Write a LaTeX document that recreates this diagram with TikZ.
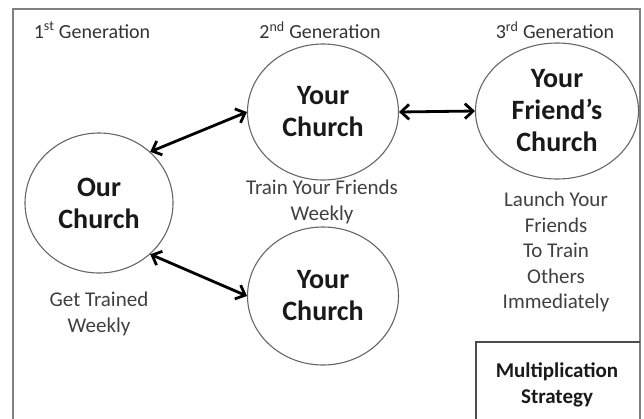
\documentclass[tikz,border=0pt]{standalone}
\usepackage{fontspec}
\setmainfont{Carlito}
\usepackage[svgnames]{xcolor}
\usepackage{tikz}
\usetikzlibrary{arrows.meta, shapes.geometric, positioning}

\tikzset{
    church/.style={ellipse, draw=black!60, line width=1.1pt, inner sep=0pt,
        align=center, text=black!90, font=\fontsize{28}{32}\selectfont\bfseries},
    gen/.style={text=black!80, font=\fontsize{20}{24}\selectfont},
    note/.style={align=center, text=black!75, font=\fontsize{21}{25.5}\selectfont},
    link/.style={line width=2.8pt, {Straight Barb[length=8pt,width=15pt]}-{Straight Barb[length=8pt,width=15pt]}}
}

\begin{document}
\begin{tikzpicture}[x=1pt, y=-1pt]
                    \useasboundingbox (0,0) rectangle (644,418);

                    % frame
                    \draw[black!50, line width=2pt] (13,420) -- (13,9) -- (640,9) -- (640,420);
                    \draw[black!70, line width=1.5pt] (476,420) -- (476,342) -- (640,342);

                    \node[gen] (gen1) at (92, 30) {1\textsuperscript{st} Generation};
                    \node[gen] (gen2) at (320, 30) {2\textsuperscript{nd} Generation};
                    \node[gen] (gen3) at (555, 30) {3\textsuperscript{rd} Generation};

                    \node[church, minimum width=148pt, minimum height=140pt] (our) at (99, 203) {Our\\Church};
                    \node[church, minimum width=151pt, minimum height=136pt] (yourtop) at (323, 112) {Your\\Church};
                    \node[church, minimum width=151pt, minimum height=138pt] (yourbot) at (323, 296) {Your\\Church};
                    \node[church, minimum width=163pt, minimum height=136pt] (friend) at (557, 111) {Your\\Friend’s\\Church};

                    \node[note] (trainnote) at (322, 202) {Train Your Friends\\Weekly};
                    \node[note] (getnote) at (99, 314) {Get Trained\\Weekly};
                    \node[note] (launchnote) at (556, 252) {Launch Your\\Friends\\To Train\\Others\\Immediately};
                    \node[note, text=black!90, font=\fontsize{21}{25.5}\selectfont\bfseries] (strategy) at (557, 385) {Multiplication\\Strategy};

                    \draw[link] (our.45) -- (yourtop.west);
                    \draw[link] (our.-45) -- (yourbot.west);
                    \draw[link] (yourtop.east) -- (friend.west);
                \end{tikzpicture}
\end{document}
